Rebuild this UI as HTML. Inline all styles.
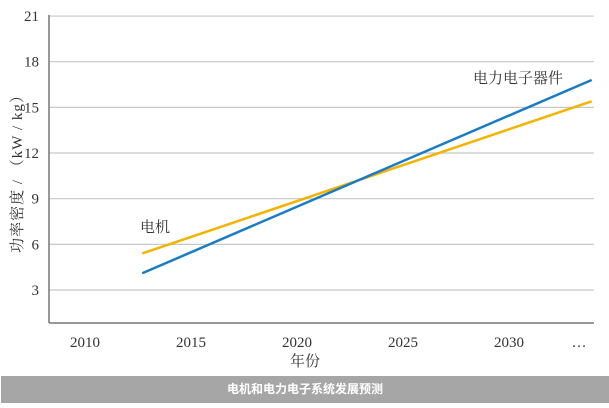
<!DOCTYPE html>
<html><head><meta charset="utf-8"><style>
body{margin:0;background:#fff;width:609px;height:403px;overflow:hidden;font-family:"Liberation Serif","Noto Serif CJK SC",serif}
svg text{font-family:"Liberation Serif","Noto Serif CJK SC",serif;fill:#333}
</style></head><body>
<svg width="609" height="403">
<g id="grid"></g>
<g id="marks"></g>
<text x="155" y="232" font-size="15" text-anchor="middle">电机</text>
<text x="518" y="83" font-size="15" text-anchor="middle">电力电子器件</text>
<text x="305" y="366" font-size="15" text-anchor="middle">年份</text>
<text transform="translate(22,170) rotate(-90)" font-size="15" text-anchor="middle" letter-spacing="1">功率密度 / （kW / kg）</text>
<rect x="1" y="376" width="608" height="27" fill="#a6a6a6"/>
<text x="305" y="393" font-size="12" font-weight="bold" text-anchor="middle" style="fill:#fff;font-family:'Noto Sans CJK SC',sans-serif">电机和电力电子系统发展预测</text>
</svg>
<script>
const yTicks=[3,6,9,12,15,18,21];
const xTicks=["2010","2015","2020","2025","2030","…"];
const xTickYears=[2010,2015,2020,2025,2030,2033.3];
const motorYears=[2012.7,2033.9];
const motorValues=[5.4,15.4];
const peYears=[2012.7,2033.9];
const peValues=[4.1,16.8];
const ns="http://www.w3.org/2000/svg";
const L=49,R=594,B=323;
const y=v=>290-(v-3)*15.22;
const x=t=>85+(t-2010)*21.2;
const g=document.getElementById('grid'),m=document.getElementById('marks');
function mk(tag,at,p){const e=document.createElementNS(ns,tag);for(const k in at)e.setAttribute(k,at[k]);p.appendChild(e);return e;}
yTicks.forEach(v=>{
 const l=mk('line',{x1:L,x2:R,y1:y(v),y2:y(v),stroke:'#c8c8c8','stroke-width':1.2},g);
 
 
 const t=mk('text',{x:L-10,y:y(v)+5,'text-anchor':'end','font-size':15},g);t.textContent=v;
 
 
});
const ax=mk('line',{x1:L,x2:L,y1:15,y2:B,stroke:'#777','stroke-width':1.5},g);


const bx=mk('line',{x1:L,x2:R,y1:B,y2:B,stroke:'#777','stroke-width':1.5},g);


xTicks.forEach((s,i)=>{
 const t=mk('text',{x:x(xTickYears[i]),y:347,'text-anchor':'middle','font-size':15},g);t.textContent=s;
 
 
});
function line(ys,vs,c,n){
 const p=mk('polyline',{points:ys.map((t,i)=>x(t)+','+y(vs[i])).join(' '),fill:'none',stroke:c,'stroke-width':2.5},m);
 
 
}
line(motorYears,motorValues,'#f2b400','motor-line');
line(peYears,peValues,'#1a7cc4','power-electronics-line');
</script>
</body></html>
